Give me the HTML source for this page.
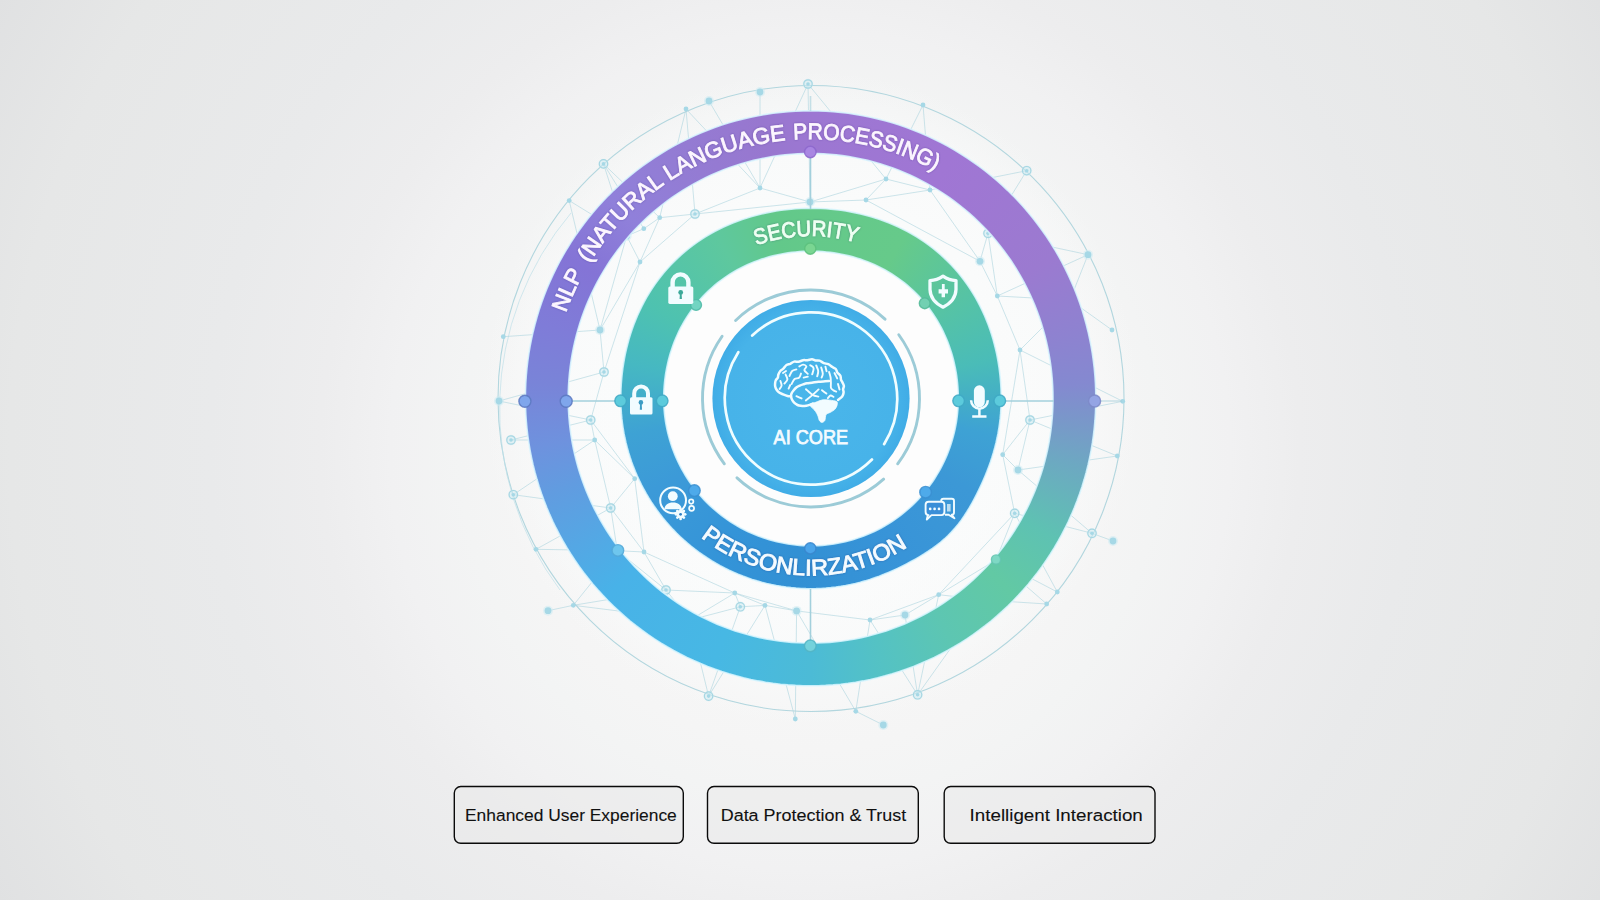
<!DOCTYPE html>
<html><head><meta charset="utf-8"><title>AI Core Diagram</title>
<style>
html,body{margin:0;padding:0;}
body{width:1600px;height:900px;overflow:hidden;position:relative;font-family:"Liberation Sans",sans-serif;
background:radial-gradient(circle at 810px 450px,#f7f7f7 0px,#f6f6f6 250px,#f5f5f5 300px,#f3f4f4 350px,#f1f1f2 420px,#ededee 490px,#e9eaeb 600px,#e6e7e7 800px,#e0e1e2 930px);}
.layer{position:absolute;left:0;top:0;width:1600px;height:900px;}
.ring{position:absolute;border-radius:50%;}
#outer{left:510.6px;top:98.3px;width:600px;height:600px;
background:conic-gradient(from 0deg,#9c77d2 0deg,#a076d4 30deg,#9b7ad0 60deg,#8e82d0 76deg,#8489d0 87deg,#6da8c2 104deg,#5ec2b2 120deg,#62c9a4 134deg,#5dc6b2 150deg,#54c2c4 165deg,#4cbbd6 180deg,#47b8e4 200deg,#48b2e8 226deg,#619ce0 250deg,#6e92de 260deg,#7984d8 273deg,#7f7cd8 285deg,#8474d6 300deg,#9080da 315deg,#937cd4 330deg,#9877cf 350deg,#9c77d2 360deg);
clip-path:path(evenodd,"M300.00,12.50 L307.53,12.60 L315.05,12.90 L322.56,13.40 L330.05,14.10 L337.52,15.00 L344.97,16.10 L352.38,17.39 L359.75,18.88 L367.09,20.57 L374.37,22.45 L381.60,24.52 L388.77,26.78 L395.88,29.23 L402.92,31.87 L409.89,34.70 L416.78,37.71 L423.59,40.90 L430.30,44.26 L436.93,47.80 L443.46,51.52 L449.89,55.41 L456.21,59.46 L462.42,63.68 L468.52,68.06 L474.50,72.59 L480.35,77.28 L486.08,82.13 L491.68,87.12 L497.15,92.25 L502.48,97.52 L507.66,102.94 L512.71,108.48 L517.60,114.15 L522.34,119.95 L526.94,125.87 L531.37,131.90 L535.64,138.05 L539.76,144.30 L543.70,150.66 L547.48,157.12 L551.09,163.67 L554.53,170.31 L557.80,177.04 L560.89,183.85 L563.80,190.73 L566.53,197.69 L569.08,204.71 L571.45,211.80 L573.63,218.95 L575.63,226.15 L577.44,233.39 L579.06,240.68 L580.50,248.01 L581.74,255.38 L582.80,262.77 L583.66,270.19 L584.33,277.62 L584.82,285.07 L585.10,292.53 L585.20,300.00 L585.10,307.47 L584.82,314.93 L584.33,322.38 L583.66,329.81 L582.80,337.23 L581.74,344.62 L580.50,351.99 L579.06,359.32 L577.44,366.61 L575.63,373.85 L573.63,381.05 L571.45,388.20 L569.08,395.29 L566.53,402.31 L563.80,409.27 L560.89,416.15 L557.80,422.96 L554.53,429.69 L551.09,436.33 L547.48,442.88 L543.70,449.34 L539.76,455.70 L535.64,461.95 L531.37,468.10 L526.94,474.13 L522.34,480.05 L517.60,485.85 L512.71,491.52 L507.66,497.06 L502.48,502.48 L497.15,507.75 L491.68,512.88 L486.08,517.87 L480.35,522.72 L474.50,527.41 L468.52,531.94 L462.42,536.32 L456.21,540.54 L449.89,544.59 L443.46,548.48 L436.93,552.20 L430.30,555.74 L423.59,559.10 L416.78,562.29 L409.89,565.30 L402.92,568.13 L395.88,570.77 L388.77,573.22 L381.60,575.48 L374.37,577.55 L367.09,579.43 L359.75,581.12 L352.38,582.61 L344.97,583.90 L337.52,585.00 L330.05,585.90 L322.56,586.60 L315.05,587.10 L307.53,587.40 L300.00,587.50 L292.47,587.40 L284.95,587.10 L277.44,586.60 L269.95,585.90 L262.48,585.00 L255.03,583.90 L247.62,582.61 L240.25,581.12 L232.91,579.43 L225.63,577.55 L218.40,575.48 L211.23,573.22 L204.12,570.77 L197.08,568.13 L190.11,565.30 L183.22,562.29 L176.41,559.10 L169.70,555.74 L163.07,552.20 L156.54,548.48 L150.11,544.59 L143.79,540.54 L137.58,536.32 L131.48,531.94 L125.50,527.41 L119.65,522.72 L113.92,517.87 L108.32,512.88 L102.85,507.75 L97.52,502.48 L92.34,497.06 L87.29,491.52 L82.40,485.85 L77.66,480.05 L73.06,474.13 L68.63,468.10 L64.36,461.95 L60.24,455.70 L56.30,449.34 L52.52,442.88 L48.91,436.33 L45.47,429.69 L42.20,422.96 L39.11,416.15 L36.20,409.27 L33.47,402.31 L30.92,395.29 L28.55,388.20 L26.37,381.05 L24.37,373.85 L22.56,366.61 L20.94,359.32 L19.50,351.99 L18.26,344.62 L17.20,337.23 L16.34,329.81 L15.67,322.38 L15.18,314.93 L14.90,307.47 L14.80,300.00 L14.90,292.53 L15.18,285.07 L15.67,277.62 L16.34,270.19 L17.20,262.77 L18.26,255.38 L19.50,248.01 L20.94,240.68 L22.56,233.39 L24.37,226.15 L26.37,218.95 L28.55,211.80 L30.92,204.71 L33.47,197.69 L36.20,190.73 L39.11,183.85 L42.20,177.04 L45.47,170.31 L48.91,163.67 L52.52,157.12 L56.30,150.66 L60.24,144.30 L64.36,138.05 L68.63,131.90 L73.06,125.87 L77.66,119.95 L82.40,114.15 L87.29,108.48 L92.34,102.94 L97.52,97.52 L102.85,92.25 L108.32,87.12 L113.92,82.13 L119.65,77.28 L125.50,72.59 L131.48,68.06 L137.58,63.68 L143.79,59.46 L150.11,55.41 L156.54,51.52 L163.07,47.80 L169.70,44.26 L176.41,40.90 L183.22,37.71 L190.11,34.70 L197.08,31.87 L204.12,29.23 L211.23,26.78 L218.40,24.52 L225.63,22.45 L232.91,20.57 L240.25,18.88 L247.62,17.39 L255.03,16.10 L262.48,15.00 L269.95,14.10 L277.44,13.40 L284.95,12.90 L292.47,12.60 Z M300.00,55.20 L293.59,55.29 L287.19,55.54 L280.79,55.97 L274.41,56.57 L268.05,57.34 L261.71,58.27 L255.40,59.38 L249.13,60.65 L242.88,62.09 L236.68,63.70 L230.53,65.47 L224.42,67.40 L218.37,69.50 L212.38,71.75 L206.46,74.16 L200.59,76.73 L194.80,79.45 L189.09,82.33 L183.46,85.35 L177.90,88.52 L172.44,91.84 L167.06,95.30 L161.78,98.89 L156.60,102.63 L151.52,106.50 L146.55,110.50 L141.68,114.63 L136.92,118.88 L132.28,123.26 L127.76,127.76 L123.35,132.37 L119.07,137.09 L114.91,141.92 L110.89,146.86 L106.99,151.90 L103.23,157.04 L99.60,162.27 L96.12,167.60 L92.77,173.01 L89.56,178.50 L86.50,184.08 L83.58,189.73 L80.82,195.45 L78.20,201.25 L75.73,207.10 L73.42,213.02 L71.25,219.00 L69.25,225.02 L67.40,231.10 L65.71,237.22 L64.17,243.38 L62.80,249.58 L61.58,255.81 L60.53,262.07 L59.63,268.36 L58.90,274.66 L58.33,280.98 L57.93,287.31 L57.68,293.65 L57.60,300.00 L57.68,306.35 L57.93,312.69 L58.33,319.02 L58.90,325.34 L59.63,331.64 L60.53,337.93 L61.58,344.19 L62.80,350.42 L64.17,356.62 L65.71,362.78 L67.40,368.90 L69.25,374.98 L71.25,381.00 L73.42,386.98 L75.73,392.90 L78.20,398.75 L80.82,404.55 L83.58,410.27 L86.50,415.92 L89.56,421.50 L92.77,426.99 L96.12,432.40 L99.60,437.73 L103.23,442.96 L106.99,448.10 L110.89,453.14 L114.91,458.08 L119.07,462.91 L123.35,467.63 L127.76,472.24 L132.28,476.74 L136.92,481.12 L141.68,485.37 L146.55,489.50 L151.52,493.50 L156.60,497.37 L161.78,501.11 L167.06,504.70 L172.44,508.16 L177.90,511.48 L183.46,514.65 L189.09,517.67 L194.80,520.55 L200.59,523.27 L206.46,525.84 L212.38,528.25 L218.37,530.50 L224.42,532.60 L230.53,534.53 L236.68,536.30 L242.88,537.91 L249.13,539.35 L255.40,540.62 L261.71,541.73 L268.05,542.66 L274.41,543.43 L280.79,544.03 L287.19,544.46 L293.59,544.71 L300.00,544.80 L306.41,544.71 L312.81,544.46 L319.21,544.03 L325.59,543.43 L331.95,542.66 L338.29,541.73 L344.60,540.62 L350.87,539.35 L357.12,537.91 L363.32,536.30 L369.47,534.53 L375.58,532.60 L381.63,530.50 L387.62,528.25 L393.54,525.84 L399.41,523.27 L405.20,520.55 L410.91,517.67 L416.54,514.65 L422.10,511.48 L427.56,508.16 L432.94,504.70 L438.22,501.11 L443.40,497.37 L448.48,493.50 L453.45,489.50 L458.32,485.37 L463.08,481.12 L467.72,476.74 L472.24,472.24 L476.65,467.63 L480.93,462.91 L485.09,458.08 L489.11,453.14 L493.01,448.10 L496.77,442.96 L500.40,437.73 L503.88,432.40 L507.23,426.99 L510.44,421.50 L513.50,415.92 L516.42,410.27 L519.18,404.55 L521.80,398.75 L524.27,392.90 L526.58,386.98 L528.75,381.00 L530.75,374.98 L532.60,368.90 L534.29,362.78 L535.83,356.62 L537.20,350.42 L538.42,344.19 L539.47,337.93 L540.37,331.64 L541.10,325.34 L541.67,319.02 L542.07,312.69 L542.32,306.35 L542.40,300.00 L542.32,293.65 L542.07,287.31 L541.67,280.98 L541.10,274.66 L540.37,268.36 L539.47,262.07 L538.42,255.81 L537.20,249.58 L535.83,243.38 L534.29,237.22 L532.60,231.10 L530.75,225.02 L528.75,219.00 L526.58,213.02 L524.27,207.10 L521.80,201.25 L519.18,195.45 L516.42,189.73 L513.50,184.08 L510.44,178.50 L507.23,173.01 L503.88,167.60 L500.40,162.27 L496.77,157.04 L493.01,151.90 L489.11,146.86 L485.09,141.92 L480.93,137.09 L476.65,132.37 L472.24,127.76 L467.72,123.26 L463.08,118.88 L458.32,114.63 L453.45,110.50 L448.48,106.50 L443.40,102.63 L438.22,98.89 L432.94,95.30 L427.56,91.84 L422.10,88.52 L416.54,85.35 L410.91,82.33 L405.20,79.45 L399.41,76.73 L393.54,74.16 L387.62,71.75 L381.63,69.50 L375.58,67.40 L369.47,65.47 L363.32,63.70 L357.12,62.09 L350.87,60.65 L344.60,59.38 L338.29,58.27 L331.95,57.34 L325.59,56.57 L319.21,55.97 L312.81,55.54 L306.41,55.29 Z");border-radius:0;}
#inner{left:611.0px;top:198.5px;width:400px;height:400px;
background:conic-gradient(from 0deg,#64c98a 0deg,#66ca8a 30deg,#54c2a8 60deg,#4abcb8 78deg,#3ea2d4 101deg,#3c98d6 120deg,#3894d8 150deg,#3290d4 185deg,#3494d8 210deg,#3c9ad8 240deg,#3ea2d4 259deg,#46b8c2 281deg,#4ec2b0 300deg,#5ec89e 330deg,#62c88a 348deg,#64c98a 360deg);
clip-path:path(evenodd,"M200.00,9.80 L204.98,9.86 L209.96,10.02 L214.93,10.30 L219.90,10.70 L224.86,11.20 L229.80,11.82 L234.74,12.56 L239.66,13.41 L244.56,14.37 L249.45,15.46 L254.31,16.67 L259.14,17.99 L263.94,19.44 L268.71,21.01 L273.44,22.71 L278.13,24.53 L282.77,26.47 L287.36,28.55 L291.90,30.75 L296.38,33.07 L300.79,35.53 L305.14,38.11 L309.41,40.81 L313.60,43.64 L317.72,46.59 L321.74,49.66 L325.68,52.85 L329.52,56.15 L333.26,59.57 L336.90,63.10 L340.43,66.74 L343.85,70.48 L347.15,74.32 L350.34,78.26 L353.41,82.28 L356.36,86.40 L359.19,90.59 L361.89,94.86 L364.47,99.21 L366.93,103.62 L369.25,108.10 L371.45,112.64 L373.53,117.23 L375.47,121.87 L377.29,126.56 L378.99,131.29 L380.56,136.06 L382.01,140.86 L383.33,145.69 L384.54,150.55 L385.63,155.44 L386.59,160.34 L387.44,165.26 L388.18,170.20 L388.80,175.14 L389.30,180.10 L389.70,185.07 L389.98,190.04 L390.14,195.02 L390.20,200.00 L390.13,204.98 L389.94,209.95 L389.61,214.92 L389.16,219.88 L388.57,224.83 L387.86,229.75 L387.02,234.66 L386.05,239.55 L384.96,244.40 L383.74,249.23 L382.41,254.03 L380.95,258.80 L379.39,263.52 L377.71,268.22 L375.94,272.88 L374.06,277.50 L372.10,282.09 L370.05,286.64 L367.91,291.17 L365.70,295.66 L363.39,300.13 L360.99,304.55 L358.49,308.93 L355.87,313.25 L353.12,317.49 L350.23,321.65 L347.18,325.70 L343.96,329.62 L340.57,333.40 L337.02,337.02 L333.31,340.48 L329.46,343.78 L325.48,346.92 L321.39,349.91 L317.22,352.76 L312.97,355.49 L308.66,358.11 L304.31,360.63 L299.92,363.06 L295.50,365.40 L291.04,367.67 L286.54,369.85 L282.01,371.94 L277.44,373.94 L272.84,375.85 L268.19,377.65 L263.51,379.34 L258.79,380.92 L254.03,382.39 L249.23,383.73 L244.40,384.95 L239.55,386.05 L234.66,387.02 L229.75,387.86 L224.83,388.57 L219.88,389.16 L214.92,389.61 L209.95,389.94 L204.98,390.13 L200.00,390.20 L195.02,390.13 L190.05,389.94 L185.08,389.61 L180.12,389.16 L175.17,388.57 L170.25,387.86 L165.34,387.02 L160.46,386.04 L155.60,384.94 L150.77,383.72 L145.98,382.37 L141.22,380.89 L136.51,379.29 L131.84,377.57 L127.21,375.72 L122.64,373.76 L118.12,371.67 L113.65,369.47 L109.24,367.15 L104.90,364.72 L100.62,362.17 L96.41,359.52 L92.27,356.75 L88.20,353.88 L84.21,350.90 L80.30,347.81 L76.47,344.63 L72.73,341.35 L69.07,337.97 L65.51,334.49 L62.03,330.93 L58.65,327.27 L55.37,323.53 L52.19,319.70 L49.10,315.79 L46.12,311.80 L43.25,307.73 L40.48,303.59 L37.83,299.38 L35.28,295.10 L32.85,290.76 L30.53,286.35 L28.33,281.88 L26.24,277.36 L24.28,272.79 L22.43,268.16 L20.71,263.49 L19.11,258.78 L17.63,254.02 L16.28,249.23 L15.06,244.40 L13.96,239.54 L12.98,234.66 L12.14,229.75 L11.43,224.83 L10.84,219.88 L10.39,214.92 L10.06,209.95 L9.87,204.98 L9.80,200.00 L9.86,195.02 L10.02,190.04 L10.30,185.07 L10.70,180.10 L11.20,175.14 L11.82,170.20 L12.56,165.26 L13.41,160.34 L14.37,155.44 L15.46,150.55 L16.67,145.69 L17.99,140.86 L19.44,136.06 L21.01,131.29 L22.71,126.56 L24.53,121.87 L26.47,117.23 L28.55,112.64 L30.75,108.10 L33.07,103.62 L35.53,99.21 L38.11,94.86 L40.81,90.59 L43.64,86.40 L46.59,82.28 L49.66,78.26 L52.85,74.32 L56.15,70.48 L59.57,66.74 L63.10,63.10 L66.74,59.57 L70.48,56.15 L74.32,52.85 L78.26,49.66 L82.28,46.59 L86.40,43.64 L90.59,40.81 L94.86,38.11 L99.21,35.53 L103.62,33.07 L108.10,30.75 L112.64,28.55 L117.23,26.47 L121.87,24.53 L126.56,22.71 L131.29,21.01 L136.06,19.44 L140.86,17.99 L145.69,16.67 L150.55,15.46 L155.44,14.37 L160.34,13.41 L165.26,12.56 L170.20,11.82 L175.14,11.20 L180.10,10.70 L185.07,10.30 L190.04,10.02 L195.02,9.86 Z M200.00,52.70 L196.14,52.75 L192.29,52.89 L188.44,53.12 L184.60,53.45 L180.76,53.87 L176.94,54.38 L173.12,54.99 L169.33,55.69 L165.55,56.49 L161.79,57.38 L158.05,58.37 L154.33,59.45 L150.65,60.63 L146.99,61.90 L143.36,63.27 L139.77,64.73 L136.22,66.29 L132.71,67.94 L129.24,69.68 L125.82,71.53 L122.46,73.46 L119.14,75.48 L115.88,77.60 L112.67,79.81 L109.53,82.10 L106.46,84.49 L103.45,86.95 L100.51,89.51 L97.64,92.14 L94.85,94.85 L92.14,97.64 L89.51,100.51 L86.95,103.45 L84.49,106.46 L82.10,109.53 L79.81,112.67 L77.60,115.88 L75.48,119.14 L73.46,122.46 L71.53,125.82 L69.68,129.24 L67.94,132.71 L66.29,136.22 L64.73,139.77 L63.27,143.36 L61.90,146.99 L60.63,150.65 L59.45,154.33 L58.37,158.05 L57.38,161.79 L56.49,165.55 L55.69,169.33 L54.99,173.12 L54.38,176.94 L53.87,180.76 L53.45,184.60 L53.12,188.44 L52.89,192.29 L52.75,196.14 L52.70,200.00 L52.75,203.86 L52.90,207.71 L53.15,211.56 L53.51,215.40 L53.96,219.23 L54.51,223.04 L55.17,226.84 L55.92,230.63 L56.77,234.39 L57.72,238.12 L58.77,241.84 L59.91,245.52 L61.15,249.17 L62.48,252.79 L63.91,256.37 L65.43,259.91 L67.05,263.41 L68.75,266.87 L70.55,270.29 L72.43,273.65 L74.41,276.96 L76.46,280.23 L78.61,283.43 L80.83,286.58 L83.14,289.67 L85.53,292.70 L87.99,295.66 L90.53,298.56 L93.15,301.39 L95.84,304.16 L98.61,306.85 L101.44,309.47 L104.34,312.01 L107.30,314.47 L110.33,316.86 L113.42,319.17 L116.57,321.39 L119.77,323.54 L123.04,325.59 L126.35,327.57 L129.71,329.45 L133.13,331.25 L136.59,332.95 L140.09,334.57 L143.63,336.09 L147.21,337.52 L150.83,338.85 L154.48,340.09 L158.16,341.23 L161.88,342.28 L165.61,343.23 L169.37,344.08 L173.16,344.83 L176.96,345.49 L180.77,346.04 L184.60,346.49 L188.44,346.85 L192.29,347.10 L196.14,347.25 L200.00,347.30 L203.86,347.25 L207.71,347.10 L211.56,346.85 L215.40,346.49 L219.23,346.04 L223.04,345.49 L226.84,344.83 L230.63,344.08 L234.39,343.23 L238.12,342.28 L241.84,341.23 L245.52,340.09 L249.17,338.85 L252.79,337.52 L256.37,336.09 L259.91,334.57 L263.41,332.95 L266.87,331.25 L270.29,329.45 L273.65,327.57 L276.96,325.59 L280.23,323.54 L283.43,321.39 L286.58,319.17 L289.67,316.86 L292.70,314.47 L295.66,312.01 L298.56,309.47 L301.39,306.85 L304.16,304.16 L306.85,301.39 L309.47,298.56 L312.01,295.66 L314.47,292.70 L316.86,289.67 L319.17,286.58 L321.39,283.43 L323.54,280.23 L325.59,276.96 L327.57,273.65 L329.45,270.29 L331.25,266.87 L332.95,263.41 L334.57,259.91 L336.09,256.37 L337.52,252.79 L338.85,249.17 L340.09,245.52 L341.23,241.84 L342.28,238.12 L343.23,234.39 L344.08,230.63 L344.83,226.84 L345.49,223.04 L346.04,219.23 L346.49,215.40 L346.85,211.56 L347.10,207.71 L347.25,203.86 L347.30,200.00 L347.25,196.14 L347.11,192.29 L346.88,188.44 L346.55,184.60 L346.13,180.76 L345.62,176.94 L345.01,173.12 L344.31,169.33 L343.51,165.55 L342.62,161.79 L341.63,158.05 L340.55,154.33 L339.37,150.65 L338.10,146.99 L336.73,143.36 L335.27,139.77 L333.71,136.22 L332.06,132.71 L330.32,129.24 L328.47,125.82 L326.54,122.46 L324.52,119.14 L322.40,115.88 L320.19,112.67 L317.90,109.53 L315.51,106.46 L313.05,103.45 L310.49,100.51 L307.86,97.64 L305.15,94.85 L302.36,92.14 L299.49,89.51 L296.55,86.95 L293.54,84.49 L290.47,82.10 L287.33,79.81 L284.12,77.60 L280.86,75.48 L277.54,73.46 L274.17,71.53 L270.76,69.68 L267.29,67.94 L263.78,66.29 L260.23,64.73 L256.64,63.27 L253.01,61.90 L249.35,60.63 L245.67,59.45 L241.95,58.37 L238.21,57.38 L234.45,56.49 L230.67,55.69 L226.88,54.99 L223.06,54.38 L219.24,53.87 L215.40,53.45 L211.56,53.12 L207.71,52.89 L203.86,52.75 Z");border-radius:0;}
.btn{position:absolute;top:786px;height:54.5px;border:1.6px solid #1c1c1c;border-radius:8px;background:rgba(246,246,246,0.55);box-sizing:content-box;
font-size:17px;color:#1a1a1a;line-height:54.5px;white-space:nowrap;}
.btn span{position:absolute;top:0;}
</style></head>
<body>
<svg class="layer" width="1600" height="900" viewBox="0 0 1600 900">
<defs>
<radialGradient id="glow" cx="811.0" cy="398.5" r="330" gradientUnits="userSpaceOnUse">
<stop offset="0" stop-color="#ffffff" stop-opacity="0.9"/>
<stop offset="0.8" stop-color="#fbfdfd" stop-opacity="0.6"/>
<stop offset="1" stop-color="#f8f9f9" stop-opacity="0"/>
</radialGradient>
</defs>
<circle cx="811.0" cy="398.5" r="330" fill="url(#glow)"/>
<circle cx="811.0" cy="398.5" r="313" fill="none" stroke="#b2d6de" stroke-width="1.1"/>
<path d="M571,213 A303,303 0 0 0 560,590" fill="none" stroke="#bfe0e8" stroke-width="1" stroke-opacity="0.7"/>
<g stroke="#b0d6df" stroke-width="0.85" stroke-opacity="0.75" fill="none">
<line x1="870.0" y1="620.0" x2="905.0" y2="615.0"/>
<line x1="734.8" y1="593.0" x2="765.0" y2="605.4"/>
<line x1="690.0" y1="620.0" x2="666.0" y2="590.0"/>
<line x1="938.7" y1="594.7" x2="985.0" y2="600.0"/>
<line x1="1014.7" y1="513.3" x2="996.0" y2="560.0"/>
<line x1="866.0" y1="200.0" x2="980.0" y2="261.3"/>
<line x1="513.3" y1="494.7" x2="594.7" y2="440.0"/>
<line x1="503.3" y1="336.7" x2="600.0" y2="330.0"/>
<line x1="996.0" y1="560.0" x2="938.7" y2="594.7"/>
<line x1="686.0" y1="109.0" x2="695.0" y2="214.0"/>
<line x1="536.0" y1="549.3" x2="610.7" y2="508.0"/>
<line x1="980.0" y1="261.3" x2="930.0" y2="190.0"/>
<line x1="808.0" y1="84.0" x2="760.0" y2="188.0"/>
<line x1="997.3" y1="296.0" x2="1020.0" y2="350.0"/>
<line x1="617.3" y1="550.7" x2="666.0" y2="590.0"/>
<line x1="594.7" y1="440.0" x2="610.7" y2="508.0"/>
<line x1="610.7" y1="508.0" x2="617.3" y2="550.7"/>
<line x1="795.3" y1="719.0" x2="765.0" y2="605.4"/>
<line x1="695.0" y1="214.0" x2="760.0" y2="188.0"/>
<line x1="569.2" y1="200.6" x2="626.7" y2="236.0"/>
<line x1="923.0" y1="105.0" x2="886.0" y2="179.0"/>
<line x1="626.7" y1="236.0" x2="640.0" y2="262.0"/>
<line x1="1070.0" y1="300.0" x2="997.3" y2="296.0"/>
<line x1="603.5" y1="163.9" x2="659.7" y2="217.7"/>
<line x1="1057.3" y1="592.0" x2="1014.7" y2="513.3"/>
<line x1="1092.0" y1="533.3" x2="1018.0" y2="470.0"/>
<line x1="1046.7" y1="604.0" x2="985.0" y2="600.0"/>
<line x1="610.7" y1="508.0" x2="634.7" y2="478.7"/>
<line x1="617.3" y1="550.7" x2="644.0" y2="552.0"/>
<line x1="734.8" y1="593.0" x2="666.0" y2="590.0"/>
<line x1="1026.7" y1="170.7" x2="988.0" y2="233.3"/>
<line x1="499.0" y1="401.0" x2="590.7" y2="420.0"/>
<line x1="796.6" y1="610.9" x2="765.0" y2="605.4"/>
<line x1="1020.0" y1="350.0" x2="1030.0" y2="420.0"/>
<line x1="810.0" y1="202.0" x2="886.0" y2="179.0"/>
<line x1="644.0" y1="552.0" x2="634.7" y2="478.7"/>
<line x1="594.7" y1="440.0" x2="590.7" y2="420.0"/>
<line x1="855.8" y1="711.3" x2="870.0" y2="620.0"/>
<line x1="1046.7" y1="604.0" x2="996.0" y2="560.0"/>
<line x1="659.7" y1="217.7" x2="640.0" y2="262.0"/>
<line x1="634.7" y1="478.7" x2="590.7" y2="420.0"/>
<line x1="626.7" y1="236.0" x2="643.8" y2="228.7"/>
<line x1="590.7" y1="420.0" x2="604.0" y2="372.0"/>
<line x1="917.6" y1="694.8" x2="938.7" y2="594.7"/>
<line x1="1122.7" y1="401.3" x2="1030.0" y2="420.0"/>
<line x1="573.3" y1="605.3" x2="666.0" y2="590.0"/>
<line x1="640.0" y1="262.0" x2="604.0" y2="372.0"/>
<line x1="734.8" y1="593.0" x2="644.0" y2="552.0"/>
<line x1="1014.7" y1="513.3" x2="938.7" y2="594.7"/>
<line x1="734.8" y1="593.0" x2="690.0" y2="620.0"/>
<line x1="709.0" y1="101.0" x2="760.0" y2="188.0"/>
<line x1="988.0" y1="233.3" x2="997.3" y2="296.0"/>
<line x1="1002.7" y1="454.7" x2="1020.0" y2="350.0"/>
<line x1="600.0" y1="330.0" x2="640.0" y2="262.0"/>
<line x1="659.7" y1="217.7" x2="643.8" y2="228.7"/>
<line x1="1092.0" y1="533.3" x2="1014.7" y2="513.3"/>
<line x1="511.0" y1="440.0" x2="590.7" y2="420.0"/>
<line x1="536.0" y1="549.3" x2="617.3" y2="550.7"/>
<line x1="917.6" y1="694.8" x2="905.0" y2="615.0"/>
<line x1="1112.0" y1="330.0" x2="1070.0" y2="300.0"/>
<line x1="795.3" y1="719.0" x2="796.6" y2="610.9"/>
<line x1="708.6" y1="696.1" x2="740.3" y2="606.8"/>
<line x1="573.3" y1="605.3" x2="690.0" y2="620.0"/>
<line x1="1030.0" y1="420.0" x2="1018.0" y2="470.0"/>
<line x1="917.6" y1="694.8" x2="870.0" y2="620.0"/>
<line x1="1026.7" y1="170.7" x2="930.0" y2="190.0"/>
<line x1="734.8" y1="593.0" x2="796.6" y2="610.9"/>
<line x1="996.0" y1="560.0" x2="985.0" y2="600.0"/>
<line x1="695.0" y1="214.0" x2="640.0" y2="262.0"/>
<line x1="938.7" y1="594.7" x2="905.0" y2="615.0"/>
<line x1="810.0" y1="202.0" x2="760.0" y2="188.0"/>
<line x1="708.6" y1="696.1" x2="765.0" y2="605.4"/>
<line x1="1117.3" y1="456.0" x2="1018.0" y2="470.0"/>
<line x1="1088.0" y1="254.7" x2="1070.0" y2="300.0"/>
<line x1="1088.0" y1="254.7" x2="988.0" y2="233.3"/>
<line x1="594.7" y1="440.0" x2="634.7" y2="478.7"/>
<line x1="511.0" y1="440.0" x2="594.7" y2="440.0"/>
<line x1="866.0" y1="200.0" x2="930.0" y2="190.0"/>
<line x1="740.3" y1="606.8" x2="765.0" y2="605.4"/>
<line x1="938.7" y1="594.7" x2="870.0" y2="620.0"/>
<line x1="513.3" y1="494.7" x2="610.7" y2="508.0"/>
<line x1="1002.7" y1="454.7" x2="1018.0" y2="470.0"/>
<line x1="1088.0" y1="254.7" x2="997.3" y2="296.0"/>
<line x1="569.2" y1="200.6" x2="600.0" y2="330.0"/>
<line x1="808.0" y1="84.0" x2="810.0" y2="202.0"/>
<line x1="686.0" y1="109.0" x2="659.7" y2="217.7"/>
<line x1="644.0" y1="552.0" x2="666.0" y2="590.0"/>
<line x1="886.0" y1="179.0" x2="930.0" y2="190.0"/>
<line x1="760.0" y1="92.0" x2="760.0" y2="188.0"/>
<line x1="708.6" y1="696.1" x2="690.0" y2="620.0"/>
<line x1="1117.3" y1="456.0" x2="1030.0" y2="420.0"/>
<line x1="988.0" y1="233.3" x2="980.0" y2="261.3"/>
<line x1="626.7" y1="236.0" x2="600.0" y2="330.0"/>
<line x1="796.6" y1="610.9" x2="870.0" y2="620.0"/>
<line x1="808.0" y1="84.0" x2="886.0" y2="179.0"/>
<line x1="695.0" y1="214.0" x2="810.0" y2="202.0"/>
<line x1="603.5" y1="163.9" x2="626.7" y2="236.0"/>
<line x1="1070.0" y1="300.0" x2="1020.0" y2="350.0"/>
<line x1="740.3" y1="606.8" x2="690.0" y2="620.0"/>
<line x1="573.3" y1="605.3" x2="617.3" y2="550.7"/>
<line x1="610.7" y1="508.0" x2="644.0" y2="552.0"/>
<line x1="686.0" y1="109.0" x2="760.0" y2="188.0"/>
<line x1="1002.7" y1="454.7" x2="1030.0" y2="420.0"/>
<line x1="980.0" y1="261.3" x2="997.3" y2="296.0"/>
<line x1="659.7" y1="217.7" x2="695.0" y2="214.0"/>
<line x1="855.8" y1="711.3" x2="796.6" y2="610.9"/>
<line x1="499.0" y1="401.0" x2="604.0" y2="372.0"/>
<line x1="917.6" y1="694.8" x2="985.0" y2="600.0"/>
<line x1="810.0" y1="202.0" x2="866.0" y2="200.0"/>
<line x1="923.0" y1="105.0" x2="930.0" y2="190.0"/>
<line x1="603.5" y1="163.9" x2="643.8" y2="228.7"/>
<line x1="734.8" y1="593.0" x2="740.3" y2="606.8"/>
<line x1="1057.3" y1="592.0" x2="996.0" y2="560.0"/>
<line x1="1002.7" y1="454.7" x2="1014.7" y2="513.3"/>
<line x1="866.0" y1="200.0" x2="886.0" y2="179.0"/>
<line x1="1122.7" y1="401.3" x2="1020.0" y2="350.0"/>
<line x1="600.0" y1="330.0" x2="604.0" y2="372.0"/>
<line x1="1113.0" y1="541.0" x2="1092.0" y2="533.3"/>
<line x1="883.3" y1="725.0" x2="855.8" y2="711.3"/>
<line x1="548.0" y1="610.7" x2="573.3" y2="605.3"/>
</g>
<style>.halo{fill:#cdebf2;fill-opacity:0.55} .nd{fill:#a6d8e6} .ring{fill:none;stroke:#a6d6e2;stroke-width:1.2}</style>
<circle cx="808.0" cy="84.0" r="5.2" class="halo"/><circle cx="808.0" cy="84.0" r="4.2" class="ring"/><circle cx="808.0" cy="84.0" r="1.8" class="nd"/>
<circle cx="709.0" cy="101.0" r="5.0" class="halo"/><circle cx="709.0" cy="101.0" r="3.4" class="nd"/>
<circle cx="686.0" cy="109.0" r="2.4" class="nd"/>
<circle cx="923.0" cy="105.0" r="2.4" class="nd"/>
<circle cx="1026.7" cy="170.7" r="5.2" class="halo"/><circle cx="1026.7" cy="170.7" r="4.2" class="ring"/><circle cx="1026.7" cy="170.7" r="1.8" class="nd"/>
<circle cx="1088.0" cy="254.7" r="5.0" class="halo"/><circle cx="1088.0" cy="254.7" r="3.4" class="nd"/>
<circle cx="1122.7" cy="401.3" r="2.4" class="nd"/>
<circle cx="1117.3" cy="456.0" r="2.4" class="nd"/>
<circle cx="1092.0" cy="533.3" r="5.2" class="halo"/><circle cx="1092.0" cy="533.3" r="4.2" class="ring"/><circle cx="1092.0" cy="533.3" r="1.8" class="nd"/>
<circle cx="1113.0" cy="541.0" r="5.0" class="halo"/><circle cx="1113.0" cy="541.0" r="3.4" class="nd"/>
<circle cx="1057.3" cy="592.0" r="2.4" class="nd"/>
<circle cx="1046.7" cy="604.0" r="2.4" class="nd"/>
<circle cx="917.6" cy="694.8" r="5.2" class="halo"/><circle cx="917.6" cy="694.8" r="4.2" class="ring"/><circle cx="917.6" cy="694.8" r="1.8" class="nd"/>
<circle cx="883.3" cy="725.0" r="5.0" class="halo"/><circle cx="883.3" cy="725.0" r="3.4" class="nd"/>
<circle cx="855.8" cy="711.3" r="2.4" class="nd"/>
<circle cx="795.3" cy="719.0" r="2.4" class="nd"/>
<circle cx="708.6" cy="696.1" r="5.2" class="halo"/><circle cx="708.6" cy="696.1" r="4.2" class="ring"/><circle cx="708.6" cy="696.1" r="1.8" class="nd"/>
<circle cx="548.0" cy="610.7" r="5.0" class="halo"/><circle cx="548.0" cy="610.7" r="3.4" class="nd"/>
<circle cx="573.3" cy="605.3" r="2.4" class="nd"/>
<circle cx="536.0" cy="549.3" r="2.4" class="nd"/>
<circle cx="513.3" cy="494.7" r="5.2" class="halo"/><circle cx="513.3" cy="494.7" r="4.2" class="ring"/><circle cx="513.3" cy="494.7" r="1.8" class="nd"/>
<circle cx="499.0" cy="401.0" r="5.0" class="halo"/><circle cx="499.0" cy="401.0" r="3.4" class="nd"/>
<circle cx="503.3" cy="336.7" r="2.4" class="nd"/>
<circle cx="569.2" cy="200.6" r="2.4" class="nd"/>
<circle cx="603.5" cy="163.9" r="5.2" class="halo"/><circle cx="603.5" cy="163.9" r="4.2" class="ring"/><circle cx="603.5" cy="163.9" r="1.8" class="nd"/>
<circle cx="760.0" cy="92.0" r="5.0" class="halo"/><circle cx="760.0" cy="92.0" r="3.4" class="nd"/>
<circle cx="1112.0" cy="330.0" r="2.4" class="nd"/>
<circle cx="1070.0" cy="300.0" r="2.4" class="nd"/>
<circle cx="511.0" cy="440.0" r="5.2" class="halo"/><circle cx="511.0" cy="440.0" r="4.2" class="ring"/><circle cx="511.0" cy="440.0" r="1.8" class="nd"/>
<circle cx="626.7" cy="236.0" r="5.0" class="halo"/><circle cx="626.7" cy="236.0" r="3.4" class="nd"/>
<circle cx="659.7" cy="217.7" r="2.4" class="nd"/>
<circle cx="643.8" cy="228.7" r="2.4" class="nd"/>
<circle cx="695.0" cy="214.0" r="5.2" class="halo"/><circle cx="695.0" cy="214.0" r="4.2" class="ring"/><circle cx="695.0" cy="214.0" r="1.8" class="nd"/>
<circle cx="810.0" cy="202.0" r="5.0" class="halo"/><circle cx="810.0" cy="202.0" r="3.4" class="nd"/>
<circle cx="866.0" cy="200.0" r="2.4" class="nd"/>
<circle cx="886.0" cy="179.0" r="2.4" class="nd"/>
<circle cx="988.0" cy="233.3" r="5.2" class="halo"/><circle cx="988.0" cy="233.3" r="4.2" class="ring"/><circle cx="988.0" cy="233.3" r="1.8" class="nd"/>
<circle cx="980.0" cy="261.3" r="5.0" class="halo"/><circle cx="980.0" cy="261.3" r="3.4" class="nd"/>
<circle cx="997.3" cy="296.0" r="2.4" class="nd"/>
<circle cx="1002.7" cy="454.7" r="2.4" class="nd"/>
<circle cx="1014.7" cy="513.3" r="5.2" class="halo"/><circle cx="1014.7" cy="513.3" r="4.2" class="ring"/><circle cx="1014.7" cy="513.3" r="1.8" class="nd"/>
<circle cx="996.0" cy="560.0" r="5.0" class="halo"/><circle cx="996.0" cy="560.0" r="3.4" class="nd"/>
<circle cx="938.7" cy="594.7" r="2.4" class="nd"/>
<circle cx="734.8" cy="593.0" r="2.4" class="nd"/>
<circle cx="740.3" cy="606.8" r="5.2" class="halo"/><circle cx="740.3" cy="606.8" r="4.2" class="ring"/><circle cx="740.3" cy="606.8" r="1.8" class="nd"/>
<circle cx="796.6" cy="610.9" r="5.0" class="halo"/><circle cx="796.6" cy="610.9" r="3.4" class="nd"/>
<circle cx="765.0" cy="605.4" r="2.4" class="nd"/>
<circle cx="594.7" cy="440.0" r="2.4" class="nd"/>
<circle cx="610.7" cy="508.0" r="5.2" class="halo"/><circle cx="610.7" cy="508.0" r="4.2" class="ring"/><circle cx="610.7" cy="508.0" r="1.8" class="nd"/>
<circle cx="617.3" cy="550.7" r="5.0" class="halo"/><circle cx="617.3" cy="550.7" r="3.4" class="nd"/>
<circle cx="644.0" cy="552.0" r="2.4" class="nd"/>
<circle cx="634.7" cy="478.7" r="2.4" class="nd"/>
<circle cx="590.7" cy="420.0" r="5.2" class="halo"/><circle cx="590.7" cy="420.0" r="4.2" class="ring"/><circle cx="590.7" cy="420.0" r="1.8" class="nd"/>
<circle cx="600.0" cy="330.0" r="5.0" class="halo"/><circle cx="600.0" cy="330.0" r="3.4" class="nd"/>
<circle cx="640.0" cy="262.0" r="2.4" class="nd"/>
<circle cx="1020.0" cy="350.0" r="2.4" class="nd"/>
<circle cx="1030.0" cy="420.0" r="5.2" class="halo"/><circle cx="1030.0" cy="420.0" r="4.2" class="ring"/><circle cx="1030.0" cy="420.0" r="1.8" class="nd"/>
<circle cx="985.0" cy="600.0" r="5.0" class="halo"/><circle cx="985.0" cy="600.0" r="3.4" class="nd"/>
<circle cx="870.0" cy="620.0" r="2.4" class="nd"/>
<circle cx="690.0" cy="620.0" r="2.4" class="nd"/>
<circle cx="604.0" cy="372.0" r="5.2" class="halo"/><circle cx="604.0" cy="372.0" r="4.2" class="ring"/><circle cx="604.0" cy="372.0" r="1.8" class="nd"/>
<circle cx="1018.0" cy="470.0" r="5.0" class="halo"/><circle cx="1018.0" cy="470.0" r="3.4" class="nd"/>
<circle cx="760.0" cy="188.0" r="2.4" class="nd"/>
<circle cx="930.0" cy="190.0" r="2.4" class="nd"/>
<circle cx="666.0" cy="590.0" r="5.2" class="halo"/><circle cx="666.0" cy="590.0" r="4.2" class="ring"/><circle cx="666.0" cy="590.0" r="1.8" class="nd"/>
<circle cx="905.0" cy="615.0" r="5.0" class="halo"/><circle cx="905.0" cy="615.0" r="3.4" class="nd"/>
<!-- white interior -->
<circle cx="811.0" cy="398.5" r="148" fill="#fdfdfd"/>
</svg>

<div class="ring" id="outer"></div>
<div class="ring" id="inner"></div>

<svg class="layer" width="1600" height="900" viewBox="0 0 1600 900" style="font-family:'Liberation Sans',sans-serif">
<defs>
<linearGradient id="ig" x1="0.56" y1="0" x2="0.44" y2="1">
<stop offset="0" stop-color="#5ec77c"/>
<stop offset="0.22" stop-color="#47b896"/>
<stop offset="0.42" stop-color="#36b0b4"/>
<stop offset="0.56" stop-color="#38a5c9"/>
<stop offset="0.76" stop-color="#3a96d6"/>
<stop offset="1" stop-color="#3a86d4"/>
</linearGradient>
<radialGradient id="dg" cx="811.0" cy="398.5" r="99" gradientUnits="userSpaceOnUse">
<stop offset="0" stop-color="#4ab6ea"/>
<stop offset="0.85" stop-color="#47b3e9"/>
<stop offset="1" stop-color="#40ace6"/>
</radialGradient>
<filter id="ts" x="-20%" y="-20%" width="140%" height="140%">
<feGaussianBlur in="SourceAlpha" stdDeviation="1.3" result="b"/>
<feFlood flood-color="#2a1860" flood-opacity="0.3"/>
<feComposite in2="b" operator="in" result="s"/>
<feMerge><feMergeNode in="s"/><feMergeNode in="SourceGraphic"/></feMerge>
</filter>
<path id="pnlp" d="M555.44,353.44 A259.5,259.5 0 0 1 994.49,215.01"/>
<path id="psec" d="M706.55,274.02 A162.5,162.5 0 0 1 915.45,274.02"/>
<path id="pper" d="M685.84,523.66 A177.0,177.0 0 0 0 936.16,523.66"/>
</defs>
<!-- inner ring -->
<g fill="none" stroke="#d8f6ff" stroke-width="1.6" stroke-opacity="0.85">
<path d="M811.00,251.20 L814.86,251.25 L818.71,251.39 L822.56,251.62 L826.40,251.95 L830.24,252.37 L834.06,252.88 L837.88,253.49 L841.67,254.19 L845.45,254.99 L849.21,255.88 L852.95,256.87 L856.67,257.95 L860.35,259.13 L864.01,260.40 L867.64,261.77 L871.23,263.23 L874.78,264.79 L878.29,266.44 L881.76,268.18 L885.17,270.03 L888.54,271.96 L891.86,273.98 L895.12,276.10 L898.33,278.31 L901.47,280.60 L904.54,282.99 L907.55,285.45 L910.49,288.01 L913.36,290.64 L916.15,293.35 L918.86,296.14 L921.49,299.01 L924.05,301.95 L926.51,304.96 L928.90,308.03 L931.19,311.17 L933.40,314.38 L935.52,317.64 L937.54,320.96 L939.47,324.32 L941.32,327.74 L943.06,331.21 L944.71,334.72 L946.27,338.27 L947.73,341.86 L949.10,345.49 L950.37,349.15 L951.55,352.83 L952.63,356.55 L953.62,360.29 L954.51,364.05 L955.31,367.83 L956.01,371.62 L956.62,375.44 L957.13,379.26 L957.55,383.10 L957.88,386.94 L958.11,390.79 L958.25,394.64 L958.30,398.50 L958.25,402.36 L958.10,406.21 L957.85,410.06 L957.49,413.90 L957.04,417.73 L956.49,421.54 L955.83,425.34 L955.08,429.13 L954.23,432.89 L953.28,436.62 L952.23,440.34 L951.09,444.02 L949.85,447.67 L948.52,451.29 L947.09,454.87 L945.57,458.41 L943.95,461.91 L942.25,465.37 L940.45,468.79 L938.57,472.15 L936.59,475.46 L934.54,478.73 L932.39,481.93 L930.17,485.08 L927.86,488.17 L925.47,491.20 L923.01,494.16 L920.47,497.06 L917.85,499.89 L915.16,502.66 L912.39,505.35 L909.56,507.97 L906.66,510.51 L903.70,512.97 L900.67,515.36 L897.58,517.67 L894.43,519.89 L891.23,522.04 L887.96,524.09 L884.65,526.07 L881.29,527.95 L877.87,529.75 L874.41,531.45 L870.91,533.07 L867.37,534.59 L863.79,536.02 L860.17,537.35 L856.52,538.59 L852.84,539.73 L849.12,540.78 L845.39,541.73 L841.63,542.58 L837.84,543.33 L834.04,543.99 L830.23,544.54 L826.40,544.99 L822.56,545.35 L818.71,545.60 L814.86,545.75 L811.00,545.80 L807.14,545.75 L803.29,545.60 L799.44,545.35 L795.60,544.99 L791.77,544.54 L787.96,543.99 L784.16,543.33 L780.37,542.58 L776.61,541.73 L772.88,540.78 L769.16,539.73 L765.48,538.59 L761.83,537.35 L758.21,536.02 L754.63,534.59 L751.09,533.07 L747.59,531.45 L744.13,529.75 L740.71,527.95 L737.35,526.07 L734.04,524.09 L730.77,522.04 L727.57,519.89 L724.42,517.67 L721.33,515.36 L718.30,512.97 L715.34,510.51 L712.44,507.97 L709.61,505.35 L706.84,502.66 L704.15,499.89 L701.53,497.06 L698.99,494.16 L696.53,491.20 L694.14,488.17 L691.83,485.08 L689.61,481.93 L687.46,478.73 L685.41,475.46 L683.43,472.15 L681.55,468.79 L679.75,465.37 L678.05,461.91 L676.43,458.41 L674.91,454.87 L673.48,451.29 L672.15,447.67 L670.91,444.02 L669.77,440.34 L668.72,436.62 L667.77,432.89 L666.92,429.13 L666.17,425.34 L665.51,421.54 L664.96,417.73 L664.51,413.90 L664.15,410.06 L663.90,406.21 L663.75,402.36 L663.70,398.50 L663.75,394.64 L663.89,390.79 L664.12,386.94 L664.45,383.10 L664.87,379.26 L665.38,375.44 L665.99,371.62 L666.69,367.83 L667.49,364.05 L668.38,360.29 L669.37,356.55 L670.45,352.83 L671.63,349.15 L672.90,345.49 L674.27,341.86 L675.73,338.27 L677.29,334.72 L678.94,331.21 L680.68,327.74 L682.53,324.32 L684.46,320.96 L686.48,317.64 L688.60,314.38 L690.81,311.17 L693.10,308.03 L695.49,304.96 L697.95,301.95 L700.51,299.01 L703.14,296.14 L705.85,293.35 L708.64,290.64 L711.51,288.01 L714.45,285.45 L717.46,282.99 L720.53,280.60 L723.67,278.31 L726.88,276.10 L730.14,273.98 L733.46,271.96 L736.82,270.03 L740.24,268.18 L743.71,266.44 L747.22,264.79 L750.77,263.23 L754.36,261.77 L757.99,260.40 L761.65,259.13 L765.33,257.95 L769.05,256.87 L772.79,255.88 L776.55,254.99 L780.33,254.19 L784.12,253.49 L787.94,252.88 L791.76,252.37 L795.60,251.95 L799.44,251.62 L803.29,251.39 L807.14,251.25 Z"/><path d="M811.00,208.30 L815.98,208.36 L820.96,208.52 L825.93,208.80 L830.90,209.20 L835.86,209.70 L840.80,210.32 L845.74,211.06 L850.66,211.91 L855.56,212.87 L860.45,213.96 L865.31,215.17 L870.14,216.49 L874.94,217.94 L879.71,219.51 L884.44,221.21 L889.13,223.03 L893.77,224.97 L898.36,227.05 L902.90,229.25 L907.38,231.57 L911.79,234.03 L916.14,236.61 L920.41,239.31 L924.60,242.14 L928.72,245.09 L932.74,248.16 L936.68,251.35 L940.52,254.65 L944.26,258.07 L947.90,261.60 L951.43,265.24 L954.85,268.98 L958.15,272.82 L961.34,276.76 L964.41,280.78 L967.36,284.90 L970.19,289.09 L972.89,293.36 L975.47,297.71 L977.93,302.12 L980.25,306.60 L982.45,311.14 L984.53,315.73 L986.47,320.37 L988.29,325.06 L989.99,329.79 L991.56,334.56 L993.01,339.36 L994.33,344.19 L995.54,349.05 L996.63,353.94 L997.59,358.84 L998.44,363.76 L999.18,368.70 L999.80,373.64 L1000.30,378.60 L1000.70,383.57 L1000.98,388.54 L1001.14,393.52 L1001.20,398.50 L1001.13,403.48 L1000.94,408.45 L1000.61,413.42 L1000.16,418.38 L999.57,423.33 L998.86,428.25 L998.02,433.16 L997.05,438.05 L995.96,442.90 L994.74,447.73 L993.41,452.53 L991.95,457.30 L990.39,462.02 L988.71,466.72 L986.94,471.38 L985.06,476.00 L983.10,480.59 L981.05,485.14 L978.91,489.67 L976.70,494.16 L974.39,498.63 L971.99,503.05 L969.49,507.43 L966.87,511.75 L964.12,515.99 L961.23,520.15 L958.18,524.20 L954.96,528.12 L951.57,531.90 L948.02,535.52 L944.31,538.98 L940.46,542.28 L936.48,545.42 L932.39,548.41 L928.22,551.26 L923.97,553.99 L919.66,556.61 L915.31,559.13 L910.92,561.56 L906.50,563.90 L902.04,566.17 L897.54,568.35 L893.01,570.44 L888.44,572.44 L883.84,574.35 L879.19,576.15 L874.51,577.84 L869.79,579.42 L865.03,580.89 L860.23,582.23 L855.40,583.45 L850.55,584.55 L845.66,585.52 L840.75,586.36 L835.83,587.07 L830.88,587.66 L825.92,588.11 L820.95,588.44 L815.98,588.63 L811.00,588.70 L806.02,588.63 L801.05,588.44 L796.08,588.11 L791.12,587.66 L786.17,587.07 L781.25,586.36 L776.34,585.52 L771.46,584.54 L766.60,583.44 L761.77,582.22 L756.98,580.87 L752.22,579.39 L747.51,577.79 L742.84,576.07 L738.21,574.22 L733.64,572.26 L729.12,570.17 L724.65,567.97 L720.24,565.65 L715.90,563.22 L711.62,560.67 L707.41,558.02 L703.27,555.25 L699.20,552.38 L695.21,549.40 L691.30,546.31 L687.47,543.13 L683.73,539.85 L680.07,536.47 L676.51,532.99 L673.03,529.43 L669.65,525.77 L666.37,522.03 L663.19,518.20 L660.10,514.29 L657.12,510.30 L654.25,506.23 L651.48,502.09 L648.83,497.88 L646.28,493.60 L643.85,489.26 L641.53,484.85 L639.33,480.38 L637.24,475.86 L635.28,471.29 L633.43,466.66 L631.71,461.99 L630.11,457.28 L628.63,452.52 L627.28,447.73 L626.06,442.90 L624.96,438.04 L623.98,433.16 L623.14,428.25 L622.43,423.33 L621.84,418.38 L621.39,413.42 L621.06,408.45 L620.87,403.48 L620.80,398.50 L620.86,393.52 L621.02,388.54 L621.30,383.57 L621.70,378.60 L622.20,373.64 L622.82,368.70 L623.56,363.76 L624.41,358.84 L625.37,353.94 L626.46,349.05 L627.67,344.19 L628.99,339.36 L630.44,334.56 L632.01,329.79 L633.71,325.06 L635.53,320.37 L637.47,315.73 L639.55,311.14 L641.75,306.60 L644.07,302.12 L646.53,297.71 L649.11,293.36 L651.81,289.09 L654.64,284.90 L657.59,280.78 L660.66,276.76 L663.85,272.82 L667.15,268.98 L670.57,265.24 L674.10,261.60 L677.74,258.07 L681.48,254.65 L685.32,251.35 L689.26,248.16 L693.28,245.09 L697.40,242.14 L701.59,239.31 L705.86,236.61 L710.21,234.03 L714.62,231.57 L719.10,229.25 L723.64,227.05 L728.23,224.97 L732.87,223.03 L737.56,221.21 L742.29,219.51 L747.06,217.94 L751.86,216.49 L756.69,215.17 L761.55,213.96 L766.44,212.87 L771.34,211.91 L776.26,211.06 L781.20,210.32 L786.14,209.70 L791.10,209.20 L796.07,208.80 L801.04,208.52 L806.02,208.36 Z"/>
<path d="M810.60,153.50 L817.01,153.59 L823.41,153.84 L829.81,154.27 L836.19,154.87 L842.55,155.64 L848.89,156.57 L855.20,157.68 L861.47,158.95 L867.72,160.39 L873.92,162.00 L880.07,163.77 L886.18,165.70 L892.23,167.80 L898.22,170.05 L904.14,172.46 L910.01,175.03 L915.80,177.75 L921.51,180.63 L927.14,183.65 L932.70,186.82 L938.16,190.14 L943.54,193.60 L948.82,197.19 L954.00,200.93 L959.08,204.80 L964.05,208.80 L968.92,212.93 L973.68,217.18 L978.32,221.56 L982.84,226.06 L987.25,230.67 L991.53,235.39 L995.69,240.22 L999.71,245.16 L1003.61,250.20 L1007.37,255.34 L1011.00,260.57 L1014.48,265.90 L1017.83,271.31 L1021.04,276.80 L1024.10,282.38 L1027.02,288.03 L1029.78,293.75 L1032.40,299.55 L1034.87,305.40 L1037.18,311.32 L1039.35,317.30 L1041.35,323.32 L1043.20,329.40 L1044.89,335.52 L1046.43,341.68 L1047.80,347.88 L1049.02,354.11 L1050.07,360.37 L1050.97,366.66 L1051.70,372.96 L1052.27,379.28 L1052.67,385.61 L1052.92,391.95 L1053.00,398.30 L1052.92,404.65 L1052.67,410.99 L1052.27,417.32 L1051.70,423.64 L1050.97,429.94 L1050.07,436.23 L1049.02,442.49 L1047.80,448.72 L1046.43,454.92 L1044.89,461.08 L1043.20,467.20 L1041.35,473.28 L1039.35,479.30 L1037.18,485.28 L1034.87,491.20 L1032.40,497.05 L1029.78,502.85 L1027.02,508.57 L1024.10,514.22 L1021.04,519.80 L1017.83,525.29 L1014.48,530.70 L1011.00,536.03 L1007.37,541.26 L1003.61,546.40 L999.71,551.44 L995.69,556.38 L991.53,561.21 L987.25,565.93 L982.84,570.54 L978.32,575.04 L973.68,579.42 L968.92,583.67 L964.05,587.80 L959.08,591.80 L954.00,595.67 L948.82,599.41 L943.54,603.00 L938.16,606.46 L932.70,609.78 L927.14,612.95 L921.51,615.97 L915.80,618.85 L910.01,621.57 L904.14,624.14 L898.22,626.55 L892.23,628.80 L886.18,630.90 L880.07,632.83 L873.92,634.60 L867.72,636.21 L861.47,637.65 L855.20,638.92 L848.89,640.03 L842.55,640.96 L836.19,641.73 L829.81,642.33 L823.41,642.76 L817.01,643.01 L810.60,643.10 L804.19,643.01 L797.79,642.76 L791.39,642.33 L785.01,641.73 L778.65,640.96 L772.31,640.03 L766.00,638.92 L759.73,637.65 L753.48,636.21 L747.28,634.60 L741.13,632.83 L735.02,630.90 L728.97,628.80 L722.98,626.55 L717.06,624.14 L711.19,621.57 L705.40,618.85 L699.69,615.97 L694.06,612.95 L688.50,609.78 L683.04,606.46 L677.66,603.00 L672.38,599.41 L667.20,595.67 L662.12,591.80 L657.15,587.80 L652.28,583.67 L647.52,579.42 L642.88,575.04 L638.36,570.54 L633.95,565.93 L629.67,561.21 L625.51,556.38 L621.49,551.44 L617.59,546.40 L613.83,541.26 L610.20,536.03 L606.72,530.70 L603.37,525.29 L600.16,519.80 L597.10,514.22 L594.18,508.57 L591.42,502.85 L588.80,497.05 L586.33,491.20 L584.02,485.28 L581.85,479.30 L579.85,473.28 L578.00,467.20 L576.31,461.08 L574.77,454.92 L573.40,448.72 L572.18,442.49 L571.13,436.23 L570.23,429.94 L569.50,423.64 L568.93,417.32 L568.53,410.99 L568.28,404.65 L568.20,398.30 L568.28,391.95 L568.53,385.61 L568.93,379.28 L569.50,372.96 L570.23,366.66 L571.13,360.37 L572.18,354.11 L573.40,347.88 L574.77,341.68 L576.31,335.52 L578.00,329.40 L579.85,323.32 L581.85,317.30 L584.02,311.32 L586.33,305.40 L588.80,299.55 L591.42,293.75 L594.18,288.03 L597.10,282.38 L600.16,276.80 L603.37,271.31 L606.72,265.90 L610.20,260.57 L613.83,255.34 L617.59,250.20 L621.49,245.16 L625.51,240.22 L629.67,235.39 L633.95,230.67 L638.36,226.06 L642.88,221.56 L647.52,217.18 L652.28,212.93 L657.15,208.80 L662.12,204.80 L667.20,200.93 L672.38,197.19 L677.66,193.60 L683.04,190.14 L688.50,186.82 L694.06,183.65 L699.69,180.63 L705.40,177.75 L711.19,175.03 L717.06,172.46 L722.98,170.05 L728.97,167.80 L735.02,165.70 L741.13,163.77 L747.28,162.00 L753.48,160.39 L759.73,158.95 L766.00,157.68 L772.31,156.57 L778.65,155.64 L785.01,154.87 L791.39,154.27 L797.79,153.84 L804.19,153.59 Z"/><path d="M810.60,110.80 L818.13,110.90 L825.65,111.20 L833.16,111.70 L840.65,112.40 L848.12,113.30 L855.57,114.40 L862.98,115.69 L870.35,117.18 L877.69,118.87 L884.97,120.75 L892.20,122.82 L899.37,125.08 L906.48,127.53 L913.52,130.17 L920.49,133.00 L927.38,136.01 L934.19,139.20 L940.90,142.56 L947.53,146.10 L954.06,149.82 L960.49,153.71 L966.81,157.76 L973.02,161.98 L979.12,166.36 L985.10,170.89 L990.95,175.58 L996.68,180.43 L1002.28,185.42 L1007.75,190.55 L1013.08,195.82 L1018.26,201.24 L1023.31,206.78 L1028.20,212.45 L1032.94,218.25 L1037.54,224.17 L1041.97,230.20 L1046.24,236.35 L1050.36,242.60 L1054.30,248.96 L1058.08,255.42 L1061.69,261.97 L1065.13,268.61 L1068.40,275.34 L1071.49,282.15 L1074.40,289.03 L1077.13,295.99 L1079.68,303.01 L1082.05,310.10 L1084.23,317.25 L1086.23,324.45 L1088.04,331.69 L1089.66,338.98 L1091.10,346.31 L1092.34,353.68 L1093.40,361.07 L1094.26,368.49 L1094.93,375.92 L1095.42,383.37 L1095.70,390.83 L1095.80,398.30 L1095.70,405.77 L1095.42,413.23 L1094.93,420.68 L1094.26,428.11 L1093.40,435.53 L1092.34,442.92 L1091.10,450.29 L1089.66,457.62 L1088.04,464.91 L1086.23,472.15 L1084.23,479.35 L1082.05,486.50 L1079.68,493.59 L1077.13,500.61 L1074.40,507.57 L1071.49,514.45 L1068.40,521.26 L1065.13,527.99 L1061.69,534.63 L1058.08,541.18 L1054.30,547.64 L1050.36,554.00 L1046.24,560.25 L1041.97,566.40 L1037.54,572.43 L1032.94,578.35 L1028.20,584.15 L1023.31,589.82 L1018.26,595.36 L1013.08,600.78 L1007.75,606.05 L1002.28,611.18 L996.68,616.17 L990.95,621.02 L985.10,625.71 L979.12,630.24 L973.02,634.62 L966.81,638.84 L960.49,642.89 L954.06,646.78 L947.53,650.50 L940.90,654.04 L934.19,657.40 L927.38,660.59 L920.49,663.60 L913.52,666.43 L906.48,669.07 L899.37,671.52 L892.20,673.78 L884.97,675.85 L877.69,677.73 L870.35,679.42 L862.98,680.91 L855.57,682.20 L848.12,683.30 L840.65,684.20 L833.16,684.90 L825.65,685.40 L818.13,685.70 L810.60,685.80 L803.07,685.70 L795.55,685.40 L788.04,684.90 L780.55,684.20 L773.08,683.30 L765.63,682.20 L758.22,680.91 L750.85,679.42 L743.51,677.73 L736.23,675.85 L729.00,673.78 L721.83,671.52 L714.72,669.07 L707.68,666.43 L700.71,663.60 L693.82,660.59 L687.01,657.40 L680.30,654.04 L673.67,650.50 L667.14,646.78 L660.71,642.89 L654.39,638.84 L648.18,634.62 L642.08,630.24 L636.10,625.71 L630.25,621.02 L624.52,616.17 L618.92,611.18 L613.45,606.05 L608.12,600.78 L602.94,595.36 L597.89,589.82 L593.00,584.15 L588.26,578.35 L583.66,572.43 L579.23,566.40 L574.96,560.25 L570.84,554.00 L566.90,547.64 L563.12,541.18 L559.51,534.63 L556.07,527.99 L552.80,521.26 L549.71,514.45 L546.80,507.57 L544.07,500.61 L541.52,493.59 L539.15,486.50 L536.97,479.35 L534.97,472.15 L533.16,464.91 L531.54,457.62 L530.10,450.29 L528.86,442.92 L527.80,435.53 L526.94,428.11 L526.27,420.68 L525.78,413.23 L525.50,405.77 L525.40,398.30 L525.50,390.83 L525.78,383.37 L526.27,375.92 L526.94,368.49 L527.80,361.07 L528.86,353.68 L530.10,346.31 L531.54,338.98 L533.16,331.69 L534.97,324.45 L536.97,317.25 L539.15,310.10 L541.52,303.01 L544.07,295.99 L546.80,289.03 L549.71,282.15 L552.80,275.34 L556.07,268.61 L559.51,261.97 L563.12,255.42 L566.90,248.96 L570.84,242.60 L574.96,236.35 L579.23,230.20 L583.66,224.17 L588.26,218.25 L593.00,212.45 L597.89,206.78 L602.94,201.24 L608.12,195.82 L613.45,190.55 L618.92,185.42 L624.52,180.43 L630.25,175.58 L636.10,170.89 L642.08,166.36 L648.18,161.98 L654.39,157.76 L660.71,153.71 L667.14,149.82 L673.67,146.10 L680.30,142.56 L687.01,139.20 L693.82,136.01 L700.71,133.00 L707.68,130.17 L714.72,127.53 L721.83,125.08 L729.00,122.82 L736.23,120.75 L743.51,118.87 L750.85,117.18 L758.22,115.69 L765.63,114.40 L773.08,113.30 L780.55,112.40 L788.04,111.70 L795.55,111.20 L803.07,110.90 Z"/>
</g>
<!-- connecting spokes -->
<g stroke="#a3d0dc" stroke-width="1.6">
<line x1="810.5" y1="96" x2="810.5" y2="111" stroke-opacity="0.6"/>
<line x1="1095" y1="401" x2="1122" y2="401" stroke-opacity="0.5"/>
<line x1="566" y1="401" x2="621" y2="401"/>
<line x1="1000" y1="401" x2="1054" y2="401"/>
<line x1="810.5" y1="152" x2="810.5" y2="209"/>
<line x1="810.5" y1="589" x2="810.5" y2="645"/>
</g>
<circle cx="524.9" cy="401.2" r="6.0" fill="#7fa6ec" stroke="#5a78bf" stroke-width="1.4" stroke-opacity="0.85"/>
<circle cx="566.2" cy="401.2" r="6.0" fill="#7fa6ec" stroke="#5a78bf" stroke-width="1.4" stroke-opacity="0.85"/>
<circle cx="1094.6" cy="401.0" r="6.0" fill="#94a4e4" stroke="#7d88c8" stroke-width="1.4" stroke-opacity="0.85"/>
<circle cx="810.3" cy="152.0" r="5.8" fill="#a986e2" stroke="#8c66cc" stroke-width="1.4" stroke-opacity="0.85"/>
<circle cx="810.3" cy="645.8" r="5.8" fill="#74d2dc" stroke="#52b4c4" stroke-width="1.4" stroke-opacity="0.85"/>
<circle cx="617.9" cy="550.4" r="5.8" fill="#6ec6ee" stroke="#52a8d8" stroke-width="1.4" stroke-opacity="0.85"/>
<circle cx="996.0" cy="559.5" r="4.6" fill="#7ed8c4" stroke="#64c4b0" stroke-width="1.4" stroke-opacity="0.85"/>
<circle cx="810.3" cy="248.6" r="5.6" fill="#7ad692" stroke="#5cbf7c" stroke-width="1.4" stroke-opacity="0.85"/>
<circle cx="810.3" cy="548.4" r="5.6" fill="#4aa4ea" stroke="#3a86cc" stroke-width="1.4" stroke-opacity="0.85"/>
<circle cx="620.6" cy="400.8" r="5.8" fill="#5ccbdc" stroke="#3ea8c4" stroke-width="1.4" stroke-opacity="0.85"/>
<circle cx="662.2" cy="400.8" r="5.8" fill="#5ccbdc" stroke="#3ea8c4" stroke-width="1.4" stroke-opacity="0.85"/>
<circle cx="958.6" cy="400.8" r="5.8" fill="#5ccbdc" stroke="#3ea8c4" stroke-width="1.4" stroke-opacity="0.85"/>
<circle cx="999.8" cy="400.8" r="5.8" fill="#5ccbdc" stroke="#3ea8c4" stroke-width="1.4" stroke-opacity="0.85"/>
<circle cx="696.1" cy="305.0" r="5.4" fill="#72d4c2" stroke="#4cb8a6" stroke-width="1.4" stroke-opacity="0.85"/>
<circle cx="924.7" cy="303.3" r="5.4" fill="#72d0b2" stroke="#52b896" stroke-width="1.4" stroke-opacity="0.85"/>
<circle cx="694.4" cy="490.6" r="5.8" fill="#4eaaea" stroke="#3a8ed0" stroke-width="1.4" stroke-opacity="0.85"/>
<circle cx="925.6" cy="492.2" r="5.8" fill="#4eaaea" stroke="#3a8ed0" stroke-width="1.4" stroke-opacity="0.85"/>
<!-- core -->
<g fill="none" stroke="#9ccbd7" stroke-width="2.9" stroke-linecap="round">
<path d="M898.78,334.73 A108.5,108.5 0 0 1 897.65,463.80"/>
<path d="M883.60,479.13 A108.5,108.5 0 0 1 737.00,477.85"/>
<path d="M724.35,463.80 A108.5,108.5 0 0 1 722.12,336.27"/>
<path d="M735.63,320.45 A108.5,108.5 0 0 1 885.00,319.15"/>
</g>
<circle cx="811.0" cy="398.5" r="98.6" fill="url(#dg)"/>
<g fill="none" stroke="#f0fdff" stroke-width="2.7" stroke-linecap="round">
<path d="M871.95,459.45 A86.2,86.2 0 0 1 738.30,352.18"/>
<path d="M752.21,335.46 A86.2,86.2 0 0 1 884.10,444.18"/>
</g>
<!-- ring labels -->
<g filter="url(#ts)" font-size="22.6" fill="#fcf6ff" stroke="#fcf6ff" stroke-width="0.8">
<text><textPath href="#pnlp" startOffset="41.8" textLength="295.4" lengthAdjust="spacingAndGlyphs">NLP&#8194;(NATURAL LANGUAGE</textPath></text>
<text><textPath href="#pnlp" startOffset="344.8" textLength="146.9" lengthAdjust="spacingAndGlyphs">PROCESSING)</textPath></text>
</g>
<text filter="url(#ts)" font-size="22" fill="#f0fff4" stroke="#f0fff4" stroke-width="0.8"><textPath href="#psec" startOffset="57.7" textLength="102" lengthAdjust="spacingAndGlyphs">SECURITY</textPath></text>
<text filter="url(#ts)" font-size="22.8" fill="#f6fbff" stroke="#f6fbff" stroke-width="0.85"><textPath href="#pper" startOffset="20.2" textLength="221" lengthAdjust="spacingAndGlyphs">PERSONLIRZATION</textPath></text>
<!-- AI CORE -->
<text x="773.6" y="443.9" font-size="19.6" fill="#f4fbff" stroke="#f4fbff" stroke-width="0.75" textLength="74.6" lengthAdjust="spacingAndGlyphs">AI CORE</text>
<g fill="#f2fcff"><path d="M672.6,287.5 V282.3 a7.9,7.9 0 0 1 15.8,0 V287.5" fill="none" stroke="#f2fcff" stroke-width="4.4"/><rect x="668.3" y="286.4" width="25" height="17.5" rx="1.6"/><circle cx="680.7" cy="292.4" r="2.4" fill="#3aa99a"/><path d="M679.9,293 h1.7 l0.3,5.9 h-2.3 z" fill="#3aa99a"/></g>
<g fill="#f2fcff"><path d="M634.2,398 V393.4 a6.9,6.9 0 0 1 13.8,0 V398" fill="none" stroke="#f2fcff" stroke-width="4"/><rect x="630" y="397.2" width="22.5" height="17.2" rx="1.5"/><circle cx="640.9" cy="402.4" r="2.3" fill="#3a9cc4"/><path d="M640.1,403 h1.6 l0.3,6.8 h-2.2 z" fill="#3a9cc4"/></g>
<path d="M943,276.1 C939,278.9 934.5,280.4 930,280.6 L930,289.5 C930.3,297.5 935.5,303.5 943,307.2 C950.5,303.5 955.7,297.5 956,289.5 L956,280.6 C951.5,280.4 947,278.9 943,276.1 Z" fill="none" stroke="#f2fcff" stroke-width="3.3" stroke-linejoin="round"/>
<path d="M941.9,284 h2.8 v5.2 h3.3 v4.2 h-3.0 v3.8 h-3.4 v-3.8 h-3.0 v-4.2 h3.3 z" fill="#f2fcff"/>
<rect x="973.9" y="385.3" width="10.9" height="22" rx="5.45" fill="#f2fcff"/>
<path d="M971.1,400.3 a8.35,8.35 0 0 0 16.7,0" fill="none" stroke="#f2fcff" stroke-width="2.5"/>
<path d="M979.4,409 V416.5 M972.2,416.6 H986.5" fill="none" stroke="#f2fcff" stroke-width="2.5"/>
<circle cx="673.1" cy="500.3" r="12.9" fill="none" stroke="#f2fcff" stroke-width="2"/>
<circle cx="672.8" cy="496.2" r="4.9" fill="#f2fcff"/>
<path d="M664.3,509.2 C664.8,504.6 668,502.4 673,502.4 C678,502.4 681.2,504.6 681.8,509.2 Z" fill="#f2fcff"/>
<g fill="#f2fcff"><circle cx="680.6" cy="514.3" r="4.2"/><circle cx="685.20" cy="514.30" r="1.35"/><circle cx="683.85" cy="517.55" r="1.35"/><circle cx="680.60" cy="518.90" r="1.35"/><circle cx="677.35" cy="517.55" r="1.35"/><circle cx="676.00" cy="514.30" r="1.35"/><circle cx="677.35" cy="511.05" r="1.35"/><circle cx="680.60" cy="509.70" r="1.35"/><circle cx="683.85" cy="511.05" r="1.35"/></g>
<circle cx="680.6" cy="514.3" r="1.4" fill="#2f7fc4"/>
<g fill="none" stroke="#f2fcff" stroke-width="1.7"><circle cx="691.2" cy="501.6" r="2.2"/><circle cx="691.6" cy="508.3" r="2.5"/></g>
<path d="M941.2,502.3 V501 a2.2,2.2 0 0 1 2.2,-2.2 H951.8 a2.2,2.2 0 0 1 2.2,2.2 V512.5 a2.2,2.2 0 0 1 -2.2,2.2 L954.4,518.3 L948.6,514.7 H945" fill="none" stroke="#f2fcff" stroke-width="1.9" stroke-linejoin="round"/>
<rect x="947" y="504" width="3.6" height="7.5" fill="#f2fcff" opacity="0.7"/>
<path d="M928.6,501.8 H941.4 a3,3 0 0 1 3,3 V512.1 a3,3 0 0 1 -3,3 H931.5 L926.8,519.6 L927.9,515.1 H928.6 a3,3 0 0 1 -3,-3 V504.8 a3,3 0 0 1 3,-3 Z" fill="#3a8fd8" stroke="#f2fcff" stroke-width="1.9" stroke-linejoin="round"/>
<g fill="#f2fcff"><circle cx="930.2" cy="508.9" r="1.35"/><circle cx="934.6" cy="508.9" r="1.35"/><circle cx="939" cy="508.9" r="1.35"/></g>
<g fill="none" stroke="#f2fcff" stroke-width="2.5" stroke-linecap="round" stroke-linejoin="round"><path d="M791.00,396.40 C790.42,396.33 788.82,396.33 787.50,396.00 C786.18,395.67 784.48,394.97 783.10,394.40 C781.72,393.83 780.28,393.37 779.20,392.60 C778.12,391.83 777.27,390.82 776.60,389.80 C775.93,388.78 775.45,387.57 775.20,386.50 C774.95,385.43 775.00,384.45 775.10,383.40 C775.20,382.35 775.35,381.13 775.80,380.20 C776.25,379.27 777.37,378.75 777.80,377.80 C778.23,376.85 777.98,375.63 778.40,374.50 C778.82,373.37 779.47,371.98 780.30,371.00 C781.13,370.02 782.37,369.60 783.40,368.60 C784.43,367.60 785.35,365.80 786.50,365.00 C787.65,364.20 789.02,364.37 790.30,363.80 C791.58,363.23 792.82,361.93 794.20,361.60 C795.58,361.27 797.12,362.03 798.60,361.80 C800.08,361.57 801.62,360.47 803.10,360.20 C804.58,359.93 806.02,360.35 807.50,360.20 C808.98,360.05 810.67,359.27 812.00,359.30 C813.33,359.33 814.25,360.18 815.50,360.40 C816.75,360.62 818.12,360.15 819.50,360.60 C820.88,361.05 822.33,362.50 823.80,363.10 C825.27,363.70 826.87,363.55 828.30,364.20 C829.73,364.85 831.15,366.20 832.40,367.00 C833.65,367.80 834.97,368.07 835.80,369.00 C836.63,369.93 836.63,371.47 837.40,372.60 C838.17,373.73 839.80,374.63 840.40,375.80 C841.00,376.97 840.63,378.45 841.00,379.60 C841.37,380.75 842.12,381.63 842.60,382.70 C843.08,383.77 843.82,384.90 843.90,386.00 C843.98,387.10 843.15,388.22 843.10,389.30 C843.05,390.38 843.75,391.28 843.60,392.50 C843.45,393.72 843.13,395.35 842.20,396.60 C841.27,397.85 838.70,399.43 838.00,400.00"/><path d="M829.00,381.00 C828.35,381.05 826.85,381.17 825.10,381.30 C823.35,381.43 820.68,381.57 818.50,381.80 C816.32,382.03 813.92,382.45 812.00,382.70 C810.08,382.95 808.48,383.02 807.00,383.30 C805.52,383.58 804.30,384.02 803.10,384.40 C801.90,384.78 800.83,385.15 799.80,385.60 C798.77,386.05 797.95,386.28 796.90,387.10 C795.85,387.92 794.42,389.38 793.50,390.50 C792.58,391.62 791.80,392.78 791.40,393.80 C791.00,394.82 790.97,395.57 791.10,396.60 C791.23,397.63 791.65,398.95 792.20,400.00 C792.75,401.05 793.52,402.07 794.40,402.90 C795.28,403.73 796.43,404.52 797.50,405.00 C798.57,405.48 799.63,405.63 800.80,405.80 C801.97,405.97 803.30,406.07 804.50,406.00 C805.70,405.93 806.58,405.82 808.00,405.40 C809.42,404.98 812.17,403.82 813.00,403.50"/><path d="M779.60,389.00 C779.93,388.42 781.47,386.83 781.60,385.50 C781.73,384.17 780.60,381.75 780.40,381.00" stroke-width="1.9"/><path d="M784.40,383.60 C784.90,382.92 787.20,381.02 787.40,379.50 C787.60,377.98 785.90,375.33 785.60,374.50" stroke-width="1.9"/><path d="M783.00,373.00 C783.50,372.67 785.50,371.33 786.00,371.00" stroke-width="1.9"/><path d="M789.50,376.00 C789.95,375.17 791.05,372.10 792.20,371.00 C793.35,369.90 795.70,369.67 796.40,369.40" stroke-width="1.9"/><path d="M791.60,384.00 C792.10,383.17 793.37,380.03 794.60,379.00 C795.83,377.97 797.93,378.70 799.00,377.80 C800.07,376.90 800.67,374.30 801.00,373.60" stroke-width="1.9"/><path d="M788.60,388.60 C788.87,388.00 789.93,385.60 790.20,385.00" stroke-width="1.9"/><path d="M799.30,366.40 C799.92,366.10 801.82,364.57 803.00,364.60 C804.18,364.63 806.17,365.67 806.40,366.60 C806.63,367.53 804.17,369.00 804.40,370.20 C804.63,371.40 807.23,373.20 807.80,373.80" stroke-width="1.9"/><path d="M803.60,377.60 C804.30,377.43 807.10,376.77 807.80,376.60" stroke-width="1.9"/><path d="M810.20,365.20 C810.77,365.70 813.27,366.67 813.60,368.20 C813.93,369.73 812.43,373.37 812.20,374.40" stroke-width="1.9"/><path d="M816.20,365.40 C816.53,366.33 818.03,369.17 818.20,371.00 C818.37,372.83 817.37,375.50 817.20,376.40" stroke-width="1.9"/><path d="M821.20,367.40 C821.47,368.43 822.73,371.90 822.80,373.60 C822.87,375.30 821.80,376.93 821.60,377.60" stroke-width="1.9"/><path d="M825.40,366.60 C825.60,367.37 826.40,370.43 826.60,371.20" stroke-width="1.9"/><path d="M829.10,372.00 C829.35,372.92 830.30,375.72 830.60,377.50 C830.90,379.28 830.83,380.95 830.90,382.70 C830.97,384.45 830.57,386.72 831.00,388.00 C831.43,389.28 832.63,389.80 833.50,390.40 C834.37,391.00 835.75,391.40 836.20,391.60" stroke-width="1.9"/><path d="M834.50,373.00 C834.95,373.90 836.75,377.50 837.20,378.40" stroke-width="1.9"/><path d="M838.00,384.00 C838.25,384.92 839.25,388.58 839.50,389.50" stroke-width="1.9"/><path d="M806.00,389.20 C807.10,390.15 810.53,393.67 812.60,394.90 C814.67,396.13 817.43,396.32 818.40,396.60" stroke-width="1.9"/><path d="M796.40,396.20 C797.27,396.57 800.73,398.03 801.60,398.40" stroke-width="1.9"/><path d="M818.60,389.40 C817.60,390.32 814.73,393.07 812.60,394.90 C810.47,396.73 806.93,399.48 805.80,400.40" stroke-width="1.9"/><path d="M822.00,390.20 C822.73,390.77 825.67,393.03 826.40,393.60" stroke-width="1.9"/><path d="M827.80,398.20 C828.25,397.75 829.55,395.73 830.50,395.50 C831.45,395.27 833.00,396.58 833.50,396.80" stroke-width="1.9"/></g>
<path d="M809.60,404.60 C810.10,403.77 813.27,403.27 815.00,402.60 C816.73,401.93 818.50,401.07 820.00,400.60 C821.50,400.13 822.33,399.87 824.00,399.80 C825.67,399.73 827.88,399.90 830.00,400.20 C832.12,400.50 835.53,400.72 836.70,401.60 C837.87,402.48 837.35,404.17 837.00,405.50 C836.65,406.83 835.77,408.43 834.60,409.60 C833.43,410.77 831.38,411.73 830.00,412.50 C828.62,413.27 827.07,413.37 826.30,414.20 C825.53,415.03 825.67,416.40 825.40,417.50 C825.13,418.60 825.28,419.98 824.70,420.80 C824.12,421.62 822.80,422.47 821.90,422.40 C821.00,422.33 819.95,421.47 819.30,420.40 C818.65,419.33 818.62,417.48 818.00,416.00 C817.38,414.52 816.60,412.90 815.60,411.50 C814.60,410.10 813.00,408.75 812.00,407.60 C811.00,406.45 809.10,405.43 809.60,404.60 Z" fill="#f2fcff" stroke="#f2fcff" stroke-width="0.8"/>
</svg>

<svg class="layer" width="1600" height="900" viewBox="0 0 1600 900">
<g fill="#eaeaea" fill-opacity="0.55" stroke="#0a0a0a" stroke-width="1.4">
<rect x="454.3" y="786.5" width="229" height="56.8" rx="6.5"/>
<rect x="707.5" y="786.5" width="210.8" height="56.8" rx="6.5"/>
<rect x="944.2" y="786.5" width="210.8" height="56.8" rx="6.5"/>
</g>
<g font-family="Liberation Sans, sans-serif" font-size="17.4" fill="#111111" stroke="#111111" stroke-width="0.1">
<text x="465.0" y="820.8" textLength="211.8" lengthAdjust="spacingAndGlyphs">Enhanced User Experience</text>
<text x="720.7" y="820.8" textLength="185.6" lengthAdjust="spacingAndGlyphs">Data Protection &amp; Trust</text>
<text x="969.6" y="820.8" textLength="173.2" lengthAdjust="spacingAndGlyphs">Intelligent Interaction</text>
</g>
</svg>
</body></html>
